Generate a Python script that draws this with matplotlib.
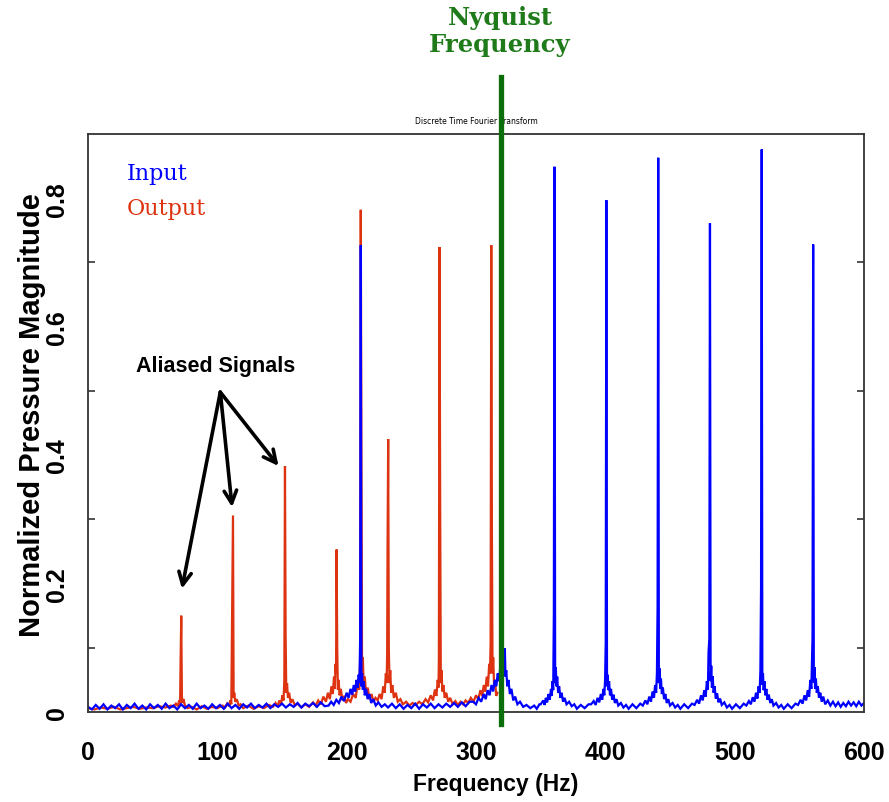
import matplotlib
matplotlib.use("Agg")
import matplotlib.pyplot as plt
import numpy as np

BLUE, RED, GREEN, NYQ_TXT = "#0000FF", "#DD3311", "#0B6E0B", "#1F7A1A"
SANS = ["Liberation Sans", "DejaVu Sans"]

out_pts = [
    (0, .006), (5, .004), (10, .007), (15, .005), (20, .008), (25, .004), (30, .006), (35, .008),
    (40, .005), (45, .007), (50, .006), (55, .009), (60, .007), (64, .010),
    (66, .008), (68, .013), (69.5, .009), (70.5, .018), (71.2, .012), (71.6, .080), (72.1, .150),
    (72.6, .025), (73.1, .014), (73.8, .020), (75, .010), (77, .006),
    (80, .008), (84, .004), (88, .009), (92, .005), (96, .008), (100, .006),
    (104, .010), (106, .007), (107.5, .013), (109, .009), (110, .018), (110.8, .012), (111.6, .196),
    (112.1, .306), (112.6, .022), (113.1, .030), (113.8, .016), (115, .020), (116.5, .010),
    (118, .012), (120, .006),
    (124, .010), (128, .005), (132, .009), (136, .006), (140, .011),
    (143, .008), (145, .014), (146.5, .009), (148, .018), (149.3, .012), (150.3, .026), (151.2, .018),
    (151.8, .050), (152.3, .383), (152.8, .120), (153.3, .030), (153.9, .045), (154.6, .022),
    (155.5, .030), (156.7, .014), (158, .020), (160, .010), (162, .013), (165, .007),
    (168, .012), (171, .008), (174, .015),
    (176, .010), (178, .018), (180, .012), (182, .024), (184, .016), (185.5, .030), (187, .020),
    (188.2, .040), (189.3, .028), (190.2, .055), (190.9, .036), (191.4, .075), (191.8, .060),
    (192.2, .253), (192.7, .100), (193.2, .035), (193.8, .050), (194.5, .026), (195.5, .036),
    (196.7, .018), (198, .025), (199.5, .014), (201, .020), (203, .016), (205, .028), (207, .022),
    (208.5, .045), (209.7, .035), (210.4, .080), (210.9, .782), (211.4, .430), (211.9, .060),
    (212.5, .085), (213.2, .040), (214, .055), (215, .028), (216.3, .038), (217.7, .020),
    (219.2, .028), (220.8, .016), (222.3, .022), (224, .018), (225.5, .028), (227, .020),
    (228.3, .040), (229.4, .030), (230.3, .060), (230.9, .045), (231.3, .090), (231.6, .250),
    (232.1, .425), (232.6, .100), (233.1, .045), (233.7, .065), (234.4, .030), (235.3, .042),
    (236.5, .022), (238, .030), (239.5, .016), (241.5, .020), (243.5, .012), (246, .016),
    (248.5, .010), (251, .014), (253.5, .011), (256, .016), (258.5, .012), (261, .020), (263, .015),
    (265, .026), (266.8, .018), (268.2, .035), (269.4, .025), (270.4, .050), (271, .038),
    (271.3, .083), (271.8, .724), (272.3, .320), (272.8, .045), (273.3, .065), (274, .032),
    (274.8, .042), (275.8, .022), (277, .030), (278.5, .016), (280, .022), (282, .012), (284, .017),
    (286, .011), (288, .016), (290, .012), (292, .018), (294, .014), (296, .022), (298, .016),
    (300, .026), (301.8, .020), (303.4, .034), (304.8, .025), (306, .042), (307.2, .032),
    (308.3, .055), (309.3, .040), (310.2, .075), (310.8, .060), (311.3, .107), (311.8, .727),
    (312.3, .277), (312.8, .060), (313.3, .085), (314, .040), (314.8, .050), (315.6, .025),
    (316.5, .030),
]

# input spectrum, (Hz, magnitude)
in_pts = [
    (0, .008), (3, .004), (6, .011), (9, .005), (12, .012), (15, .004), (18, .010), (21, .006),
    (24, .012), (27, .004), (30, .011), (33, .006), (36, .013), (39, .005), (42, .010), (45, .004),
    (48, .012), (51, .006), (54, .011), (57, .005), (60, .013), (63, .006), (66, .010), (69, .004),
    (72, .012), (75, .006), (78, .011), (81, .005), (84, .013), (87, .006), (90, .010), (93, .005),
    (96, .012), (99, .006), (102, .011), (105, .005), (108, .013), (111, .006), (114, .011),
    (117, .005), (120, .012), (123, .007), (126, .013), (129, .006), (132, .011), (135, .007),
    (138, .013), (141, .006), (144, .012), (147, .008), (150, .013), (153, .007), (156, .012),
    (159, .008), (162, .014), (165, .007), (168, .013), (171, .009), (174, .014), (177, .008),
    (180, .015), (183, .009),
    (186, .010), (188, .016), (190, .011), (192, .019), (194, .014), (196, .024), (198, .017),
    (200, .030), (201.5, .022), (203, .036), (204.3, .027), (205.5, .042), (206.6, .032),
    (207.6, .050), (208.5, .038), (209.3, .058), (209.9, .045), (210.4, .112), (210.9, .727),
    (211.4, .040), (211.9, .060), (212.5, .035), (213.2, .048), (214, .026), (215, .036),
    (216.2, .020), (217.5, .028), (219, .014), (220.5, .020), (222.5, .010), (224.5, .015),
    (227, .008), (229.5, .012),
    (232, .007), (235, .013), (238, .006), (241, .012), (244, .005), (247, .011), (250, .006),
    (253, .013), (256, .005), (259, .012), (262, .007), (265, .013), (268, .006), (271, .012),
    (274, .007), (277, .013), (280, .008), (283, .014), (286, .008), (289, .015), (292, .009),
    (295, .016),
    (298, .016), (300, .012), (302, .022), (304, .016), (306, .028), (307.5, .020), (309, .034),
    (310.5, .026), (312, .042), (313.3, .032), (314.5, .050), (315.7, .040), (316.8, .060),
    (317.8, .048), (318.7, .068), (319.6, .055), (320.5, .075), (321.3, .060), (321.8, .080),
    (322.3, .099), (322.8, .055), (323.4, .065), (324.2, .040), (325.1, .050), (326.2, .028),
    (327.4, .036), (328.8, .018), (330.3, .024), (332, .012), (334, .016), (336.5, .008),
    (339, .011), (342, .006), (345, .010), (347, .005), (349, .012),
    (350, .012), (352, .018), (353, .011), (354, .022), (355, .015), (356, .028), (357, .019),
    (358, .036), (358.6, .025), (359.2, .048), (359.7, .034), (360.2, .155), (360.7, .849),
    (361.2, .045), (361.7, .070), (362.2, .040), (362.8, .055), (363.5, .030), (364.3, .040),
    (365.2, .022), (366.2, .030), (367.3, .016), (368.5, .022), (370, .012), (372, .016), (374, .009),
    (376, .012), (378, .005), (381, .011), (384, .006), (387, .012),
    (389, .012), (391, .017), (392.5, .011), (394, .022), (395.3, .015), (396.5, .028), (397.6, .019),
    (398.5, .036), (399.2, .026), (399.8, .049), (400.3, .108), (400.8, .797), (401.3, .040),
    (401.8, .058), (402.3, .034), (402.9, .048), (403.6, .026), (404.4, .036), (405.3, .019),
    (406.3, .027), (407.4, .014), (408.6, .020), (410, .010), (412, .014), (414, .007),
    (416, .011), (418, .005), (421, .012), (424, .006), (427, .013),
    (429, .010), (431, .018), (432.5, .012), (434, .024), (435.3, .016), (436.5, .032), (437.6, .022),
    (438.5, .042), (439.3, .030), (439.9, .061), (440.4, .162), (440.9, .863), (441.4, .045),
    (441.9, .068), (442.4, .036), (443, .052), (443.7, .028), (444.5, .038), (445.4, .020),
    (446.4, .028), (447.5, .014), (448.7, .020), (450, .010), (452, .014), (454, .007),
    (456, .011), (458, .005), (461, .012), (464, .006), (467, .013),
    (469, .011), (471, .019), (472.5, .013), (474, .026), (475.3, .018), (476.5, .034), (477.6, .024),
    (478.5, .048), (479.3, .035), (479.8, .093), (480.4, .114), (480.9, .761), (481.4, .048),
    (481.9, .072), (482.4, .038), (483, .056), (483.7, .030), (484.5, .040), (485.4, .021),
    (486.4, .029), (487.5, .015), (488.7, .021), (490, .011), (492, .015), (494, .007),
    (496, .011), (498, .005), (501, .012), (504, .006), (507, .013),
    (509, .010), (511, .017), (512.5, .012), (514, .023), (515.3, .016), (516.5, .030), (517.6, .021),
    (518.5, .040), (519.3, .030), (519.9, .064), (520.4, .193), (520.9, .876), (521.4, .042),
    (521.9, .060), (522.4, .034), (523, .048), (523.7, .026), (524.5, .036), (525.4, .019),
    (526.4, .027), (527.5, .014), (528.7, .020), (530, .010), (532, .014), (534, .007),
    (536, .011), (538, .005), (541, .012), (544, .006), (547, .013),
    (549, .011), (551, .019), (552.5, .013), (554, .026), (555.3, .018), (556.5, .034), (557.6, .024),
    (558.5, .050), (559.3, .036), (559.8, .084), (560.2, .117), (560.7, .728), (561.2, .046),
    (561.7, .070), (562.2, .036), (562.8, .052), (563.5, .030), (564.3, .040), (565.2, .022),
    (566.2, .030), (567.3, .016), (568.5, .024), (570, .012), (572, .018), (574, .010), (576, .016),
    (578, .009), (580, .015), (582, .008), (584, .014), (586, .009), (588, .016), (590, .010),
    (592, .015), (594, .009), (596, .016), (598, .010), (600, .014),
]

out_freq = [p[0] for p in out_pts]
out_mag = [p[1] for p in out_pts]
in_freq = [p[0] for p in in_pts]
in_mag = [p[1] for p in in_pts]

nyquist_hz = 319.4
x_label_pos = [0, 100, 200, 300, 400, 500, 600]
x_labels = ["0", "100", "200", "300", "400", "500", "600"]
y_label_pos = [0, 0.2, 0.4, 0.6, 0.8]
y_labels = ["0", "0.2", "0.4", "0.6", "0.8"]
alias_targets = [(72.6, 0.192), (111.4, 0.319), (147.3, 0.383)]

fig = plt.figure(figsize=(8.89, 8.03), dpi=100)
ax = fig.add_axes([88 / 889, 1 - 713 / 803, 776 / 889, 578 / 803])

ax.plot(out_freq, out_mag, color=RED, lw=1.6, solid_joinstyle="miter")
ax.plot(in_freq, in_mag, color=BLUE, lw=1.6, solid_joinstyle="miter")

ax.set_xlim(0, 600)
ax.set_ylim(0, 0.9)

# label text overlaid; tick marks only where the original plot had them
ax.set_xticks(x_label_pos)
ax.set_xticklabels(x_labels)
ax.set_xticks([200, 400], minor=True)
ax.set_yticks(y_label_pos)
ax.set_yticklabels(y_labels, rotation=90, va="center")
ax.set_yticks(np.arange(0.1, 0.9, 0.1), minor=True)
ax.tick_params(which="major", length=0)
ax.tick_params(axis="x", which="major", pad=20, labelsize=18)
ax.tick_params(axis="y", which="major", pad=14, labelsize=18)
ax.tick_params(which="minor", direction="in", length=5, width=1.2, color="#333333",
               top=True, right=True)
for lab in ax.get_xticklabels() + ax.get_yticklabels():
    lab.set_fontweight("bold")
    lab.set_family(SANS)
for sp in ax.spines.values():
    sp.set_linewidth(1.3)
    sp.set_color("#333333")

ax.text(0.5, 1.0225, "Discrete Time Fourier Transform", transform=ax.transAxes,
        ha="center", va="center", fontsize=5.5)

# nyquist marker
ax.plot([nyquist_hz, nyquist_hz], [-0.019, 0.989], color=GREEN, lw=3.8, clip_on=False, zorder=5)
fig.text(500 / 889, 1 - 31.5 / 803, "Nyquist\nFrequency", ha="center", va="center",
         fontsize=17.5, fontweight="bold", family="DejaVu Serif", color=NYQ_TXT, linespacing=1.2)

ax.text(30.2, 0.830, "Input", color=BLUE, fontsize=16, family="DejaVu Serif", va="baseline")
ax.text(30.2, 0.775, "Output", color=RED, fontsize=16, family="DejaVu Serif", va="baseline")

ax.text(98.4, 0.539, "Aliased Signals", ha="center", va="center", fontsize=15.5,
        fontweight="bold", family=SANS)
for tx, ty in alias_targets:
    ax.annotate("", xy=(tx, ty), xytext=(102.3, 0.498),
                arrowprops=dict(arrowstyle="->,head_length=0.9,head_width=0.45", lw=2.6,
                                color="black", shrinkA=0, shrinkB=0))

fig.text(32 / 889, 1 - 415 / 803, "Normalized Pressure Magnitude", rotation=90,
         ha="center", va="center", fontsize=21, fontweight="bold", family=SANS)
fig.text(496 / 889, 1 - 785 / 803, "Frequency (Hz)", ha="center", va="center",
         fontsize=16.5, fontweight="bold", family=SANS)

fig.savefig("out.png", dpi=100, facecolor="white")
